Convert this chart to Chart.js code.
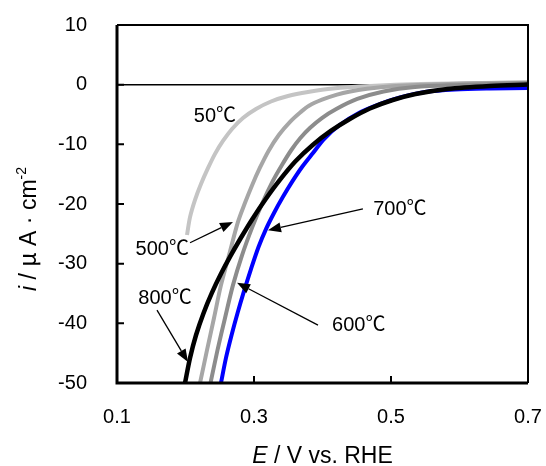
<!DOCTYPE html>
<html>
<head>
<meta charset="utf-8">
<script src="https://cdn.jsdelivr.net/npm/chart.js@4.4.1/dist/chart.umd.min.js"></script>
<style>
  html, body { margin: 0; padding: 0; background: #fff; }
  #wrap { width: 546px; height: 466px; }
</style>
</head>
<body>
<div id="wrap"><canvas id="chart"></canvas></div>
<script>
// tick labels
const xTicks = [0.1, 0.3, 0.5, 0.7];
const yTicks = [10, 0, -10, -20, -30, -40, -50];

// series: E (V vs. RHE) and i (uA/cm2)
const e800 = [0.1993, 0.2066, 0.2153, 0.2263, 0.2385, 0.2518, 0.2657, 0.2807, 0.2977, 0.3169, 0.3375,
              0.3609, 0.3857, 0.4121, 0.4399, 0.4691, 0.5025, 0.5358, 0.5825, 0.6445, 0.70];
const i800 = [-50, -45.8, -42.0, -38.3, -34.9, -31.7, -28.7, -25.7, -22.5, -19.2, -16.0,
              -12.8, -10.1, -7.76, -5.75, -3.99, -2.57, -1.56, -0.73, -0.22, 0.03];

const e700 = [0.2518, 0.2591, 0.2672, 0.2759, 0.2854, 0.2956, 0.3066, 0.3175, 0.3292, 0.3423, 0.3555,
              0.3701, 0.3861, 0.4022, 0.4241, 0.4518, 0.4825, 0.5131, 0.5496, 0.5934, 0.6445, 0.70];
const i700 = [-50, -45.8, -42.0, -38.3, -34.6, -30.9, -27.2, -24.2, -21.5, -18.8, -16.3,
              -13.8, -11.45, -9.11, -6.84, -4.83, -3.32, -2.15, -1.23, -0.81, -0.64, -0.56];

const e600 = [0.2365, 0.2467, 0.2577, 0.2693, 0.2825, 0.2971, 0.3124, 0.3277, 0.3406, 0.3545,
              0.3677, 0.3816, 0.3991, 0.4201, 0.4508, 0.4891, 0.5350, 0.6007, 0.70];
const i600 = [-50, -44.5, -39.1, -33.6, -28.6, -24.0, -19.8, -16.1, -13.5, -10.95,
              -8.94, -7.26, -5.59, -4.08, -2.40, -1.14, -0.39, -0.06, 0.28];

const e500 = [0.2212, 0.2314, 0.2416, 0.2518, 0.2635, 0.2766, 0.2869, 0.2974, 0.3083, 0.3212,
              0.3362, 0.3523, 0.3683, 0.3803, 0.3993, 0.4212, 0.4387, 0.4650, 0.5015, 0.5715, 0.6445, 0.70];
const i500 = [-50, -44.5, -39.1, -33.6, -28.6, -23.0, -19.8, -16.8, -14.0, -11.1,
              -8.43, -6.26, -4.58, -3.52, -2.52, -1.68, -1.18, -0.68, -0.26, 0.08, 0.28, 0.36];

const e50 = [0.2022, 0.2066, 0.2139, 0.2226, 0.2328, 0.2431, 0.2547, 0.2679, 0.2839, 0.3029,
             0.3248, 0.3496, 0.3788, 0.4153, 0.4693, 0.5423, 0.6299, 0.70];
const i50 = [-25.2, -22.2, -19.3, -16.65, -14.0, -11.6, -9.44, -7.43, -5.59, -4.08,
             -2.82, -1.90, -1.23, -0.64, -0.22, 0.11, 0.28, 0.36];

const seriesNames = ['800℃', '700℃', '600℃', '500℃', '50℃'];

const pts = (xs, ys) => xs.map((v, k) => ({ x: v, y: ys[k] }));

const fontNum = '"Liberation Sans", Arial, "Noto Sans CJK JP", sans-serif';

// callouts (label spot and arrow, in data units)
const callouts = [
  { text: '50℃',  at: [0.243, -5.4] },
  { text: '500℃', at: [0.166, -27.6], from: [0.2066, -26.5], to: [0.2693, -23.0] },
  { text: '700℃', at: [0.513, -21.0], from: [0.459, -20.8], to: [0.3204, -24.4] },
  { text: '800℃', at: [0.170, -35.8], from: [0.1584, -37.8], to: [0.2036, -46.5] },
  { text: '600℃', at: [0.453, -40.3], from: [0.3934, -40.3], to: [0.2752, -33.2] }
];

function arrow(ctx, x1, y1, x2, y2) {
  const ang = Math.atan2(y2 - y1, x2 - x1);
  const len = 13, half = 5;
  const bx = x2 - len * Math.cos(ang), by = y2 - len * Math.sin(ang);
  ctx.beginPath();
  ctx.moveTo(x1, y1);
  ctx.lineTo(bx, by);
  ctx.stroke();
  ctx.beginPath();
  ctx.moveTo(x2, y2);
  ctx.lineTo(bx + half * Math.sin(ang), by - half * Math.cos(ang));
  ctx.lineTo(bx - half * Math.sin(ang), by + half * Math.cos(ang));
  ctx.closePath();
  ctx.fill();
}

// draw a run of [text, font, dy] pieces starting at x
function drawRun(ctx, parts, x, y) {
  parts.forEach(p => {
    ctx.font = p[1];
    ctx.fillText(p[0], x, y + (p[2] || 0));
    x += ctx.measureText(p[0]).width;
  });
}
function runWidth(ctx, parts) {
  let w = 0;
  parts.forEach(p => { ctx.font = p[1]; w += ctx.measureText(p[0]).width; });
  return w;
}

const decor = {
  id: 'decor',
  beforeDatasetsDraw(chart) {
    const { ctx, chartArea: a, scales: { y } } = chart;
    const y0 = y.getPixelForValue(0);
    ctx.save();
    ctx.strokeStyle = '#000';
    ctx.lineWidth = 1.5;
    ctx.beginPath();
    ctx.moveTo(a.left, y0);
    ctx.lineTo(a.right, y0);
    ctx.stroke();
    ctx.restore();
  },
  afterDatasetsDraw(chart) {
    const { ctx, chartArea: a, scales: { x, y } } = chart;
    ctx.save();
    ctx.strokeStyle = '#000';
    // frame
    ctx.lineWidth = 2;
    ctx.beginPath();
    ctx.moveTo(a.left, a.top);
    ctx.lineTo(a.right, a.top);
    ctx.lineTo(a.right, a.bottom);
    ctx.stroke();
    ctx.lineWidth = 3;
    ctx.beginPath();
    ctx.moveTo(a.left, a.top);
    ctx.lineTo(a.left, a.bottom);
    ctx.lineTo(a.right, a.bottom);
    ctx.stroke();
    // inward ticks
    ctx.lineWidth = 2;
    ctx.beginPath();
    y.ticks.forEach(t => {
      const p = y.getPixelForValue(t.value);
      ctx.moveTo(a.left, p);
      ctx.lineTo(a.left + 7, p);
    });
    x.ticks.forEach(t => {
      const p = x.getPixelForValue(t.value);
      ctx.moveTo(p, a.bottom);
      ctx.lineTo(p, a.bottom - 7);
    });
    ctx.stroke();

    // callouts
    ctx.fillStyle = '#000';
    ctx.lineWidth = 1.3;
    ctx.font = '20px ' + fontNum;
    ctx.textAlign = 'center';
    ctx.textBaseline = 'middle';
    callouts.forEach(c => {
      ctx.fillText(c.text, x.getPixelForValue(c.at[0]), y.getPixelForValue(c.at[1]));
      if (c.from) {
        arrow(ctx,
          x.getPixelForValue(c.from[0]), y.getPixelForValue(c.from[1]),
          x.getPixelForValue(c.to[0]), y.getPixelForValue(c.to[1]));
      }
    });

    // axis titles
    ctx.textAlign = 'left';
    ctx.textBaseline = 'alphabetic';
    const fx = '23px ' + fontNum;
    const fxi = 'italic 23px ' + fontNum;
    const xt = [['E', fxi], [' / V vs. RHE', fx]];
    drawRun(ctx, xt, (a.left + a.right) / 2 - runWidth(ctx, xt) / 2, 463);

    const fs = '14px ' + fontNum;
    const yt = [['i', fxi], [' / ', fx], ['μ', '23px "Noto Sans CJK JP", sans-serif'], [' A · cm', fx], ['-2', fs, -10]];
    ctx.translate(36, (a.top + a.bottom) / 2 + 25);
    ctx.rotate(-Math.PI / 2);
    drawRun(ctx, yt, -runWidth(ctx, yt) / 2, 0);
    ctx.restore();
  }
};

const lineSet = (label, xs, ys, color, w) => ({
  label,
  data: pts(xs, ys),
  borderColor: color,
  borderWidth: w,
  pointRadius: 0,
  fill: false,
  tension: 0.3
});

new Chart(document.getElementById('chart'), {
  type: 'line',
  data: {
    datasets: [
      lineSet(seriesNames[0], e800, i800, '#000000', 4.5),
      lineSet(seriesNames[1], e700, i700, '#0000ff', 4),
      lineSet(seriesNames[2], e600, i600, '#8c8c8c', 4),
      lineSet(seriesNames[3], e500, i500, '#a6a6a6', 4),
      lineSet(seriesNames[4], e50, i50, '#c4c4c4', 4)
    ]
  },
  options: {
    responsive: true,
    maintainAspectRatio: false,
    animation: false,
    layout: { padding: { top: 25, right: 18, left: 0, bottom: 0 } },
    plugins: { legend: { display: false }, tooltip: { enabled: false } },
    scales: {
      x: {
        type: 'linear',
        min: 0.1,
        max: 0.7,
        afterBuildTicks: s => { s.ticks = xTicks.map(v => ({ value: v })); },
        afterFit: s => { s.height = 83; s.paddingLeft = 0; s.paddingRight = 0; },
        grid: { display: false, drawTicks: false },
        border: { display: false },
        ticks: {
          padding: 22,
          color: '#000',
          font: { family: fontNum, size: 20 },
          callback: v => v.toFixed(1)
        }
      },
      y: {
        type: 'linear',
        min: -50,
        max: 10,
        afterBuildTicks: s => { s.ticks = yTicks.map(v => ({ value: v })); },
        afterFit: s => { s.width = 117; s.paddingTop = 0; s.paddingBottom = 0; },
        grid: { display: false, drawTicks: false },
        border: { display: false },
        ticks: {
          padding: 30,
          color: '#000',
          font: { family: fontNum, size: 20 },
          callback: v => String(v)
        }
      }
    }
  },
  plugins: [decor]
});
</script>
</body>
</html>
